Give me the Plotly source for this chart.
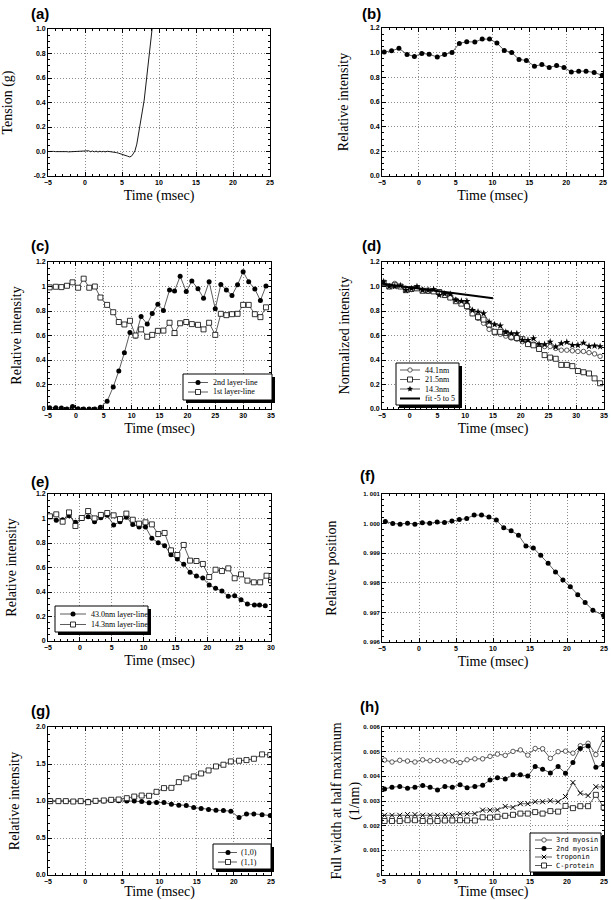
import math
import plotly.graph_objects as go

W, H = 611, 900

# ---------------- data ----------------
# (a) tension
a_t = [-5, -4.75, -4.5, -4.25, -4, -3.75, -3.5, -3.25, -3, -2.75, -2.5, -2.25, -2, -1.75, -1.5, -1.25,
       -1, -0.75, -0.5, -0.25, 0, 0.25, 0.5, 0.75, 1.0, 1.25, 1.5, 1.75, 2.0, 2.25, 2.5, 2.75, 3.0,
       3.25, 3.5, 3.75, 4.0, 4.25, 4.5, 4.75, 5.0, 5.25, 5.5, 5.75, 6.0, 6.25, 6.5, 6.75, 7.0, 7.25,
       7.5, 7.75, 8.0, 8.25, 8.5, 8.75, 9.0, 9.25]
a_tension = [0.0, 0.002, 0.0, 0.001, -0.001, 0.0, -0.002, 0.0, -0.001, -0.002, -0.001, -0.003, -0.002,
             -0.001, -0.002, 0.0, 0.001, 0.002, 0.003, 0.004, 0.005, 0.002, 0.006, -0.002, 0.004, -0.003,
             0.003, -0.004, 0.002, -0.002, 0.001, -0.003, 0.002, 0.0, -0.001, -0.004, -0.006, -0.009,
             -0.013, -0.017, -0.022, -0.027, -0.032, -0.038, -0.044, -0.040, -0.020, 0.005, 0.06, 0.14,
             0.24, 0.33, 0.42, 0.57, 0.70, 0.82, 0.96, 1.10]

# (b) relative intensity
b_t = [-4.7, -3.7, -2.7, -1.6, -0.6, 0.4, 1.4, 2.5, 3.5, 4.5, 5.5, 6.5, 7.6, 8.6, 9.6, 10.6, 11.6, 12.6,
       13.6, 14.6, 15.7, 16.7, 17.7, 18.7, 19.7, 20.7, 21.7, 22.7, 23.8, 24.9]
b_int = [1.005, 1.015, 1.035, 0.986, 0.969, 0.994, 0.988, 0.964, 0.986, 1.002, 1.075, 1.089, 1.086,
         1.110, 1.110, 1.078, 1.018, 1.002, 0.945, 0.937, 0.890, 0.904, 0.880, 0.896, 0.880, 0.844,
         0.850, 0.850, 0.839, 0.817]

# (c) layer lines
c_t = [-4.7, -3.6, -2.6, -1.6, -0.6, 0.4, 1.4, 2.4, 3.4, 4.4, 5.6, 6.7, 7.7, 8.7, 9.7, 10.7, 11.7, 12.8,
       13.7, 14.7, 15.7, 16.8, 17.7, 18.7, 19.8, 20.8, 21.9, 22.9, 23.9, 25.0, 26.0, 27.0, 28.0, 29.0,
       30.0, 31.0, 32.1, 33.1, 34.1]
c_2nd = [0.01, 0.01, 0.008, 0.0, 0.02, 0.003, 0.0, 0.0, 0.0, 0.015, 0.063, 0.18, 0.31, 0.46, 0.625,
         0.595, 0.755, 0.693, 0.78, 0.856, 0.805, 0.971, 0.963, 1.083, 0.96, 1.044, 0.982, 0.905, 1.039,
         0.818, 1.017, 0.971, 0.927, 1.014, 1.12, 1.039, 0.979, 0.886, 1.004]
c_1st = [0.993, 0.998, 0.995, 1.006, 1.034, 0.99, 1.064, 0.99, 1.0, 0.91, 0.85, 0.79, 0.71, 0.69, 0.72,
         0.60, 0.65, 0.59, 0.605, 0.638, 0.64, 0.704, 0.62, 0.70, 0.71, 0.693, 0.687, 0.65, 0.704, 0.605,
         0.777, 0.766, 0.774, 0.777, 0.85, 0.85, 0.774, 0.75, 0.83]

# (d) normalized intensity
d_t = [-4.7, -3.7, -2.7, -1.7, -0.7, 0.3, 1.3, 2.3, 3.3, 4.3, 5.3, 6.3, 7.3, 8.3, 9.3, 10.3, 11.3, 12.3,
       13.3, 14.3, 15.3, 16.3, 17.3, 18.3, 19.3, 20.3, 21.3, 22.3, 23.3, 24.3, 25.3, 26.3, 27.3, 28.3,
       29.3, 30.3, 31.3, 32.3, 33.3, 34.3]
d_441 = [1.02, 1.0, 1.025, 1.0, 0.985, 0.975, 0.99, 0.97, 0.96, 0.965, 0.94, 0.93, 0.91, 0.89, 0.87,
         0.83, 0.78, 0.74, 0.70, 0.65, 0.62, 0.61, 0.595, 0.58, 0.57, 0.55, 0.54, 0.53, 0.52, 0.51, 0.51,
         0.495, 0.48, 0.48, 0.475, 0.47, 0.47, 0.46, 0.45, 0.43]
d_215 = [1.03, 1.0, 1.01, 1.0, 0.97, 0.98, 0.985, 0.965, 0.965, 0.96, 0.955, 0.93, 0.91, 0.88, 0.86,
         0.84, 0.78, 0.75, 0.73, 0.69, 0.63, 0.63, 0.62, 0.59, 0.58, 0.57, 0.53, 0.52, 0.49, 0.44, 0.42,
         0.41, 0.36, 0.36, 0.35, 0.31, 0.30, 0.29, 0.25, 0.21]
d_143 = [1.04, 1.0, 1.0, 1.007, 0.97, 0.983, 1.0, 0.97, 0.97, 0.977, 0.93, 0.94, 0.937, 0.888, 0.88,
         0.88, 0.806, 0.793, 0.78, 0.711, 0.69, 0.68, 0.627, 0.616, 0.616, 0.562, 0.562, 0.576, 0.53,
         0.527, 0.548, 0.508, 0.535, 0.546, 0.521, 0.521, 0.54, 0.513, 0.516, 0.51]
d_fit_t = [-5, 15]
d_fit = [1.022, 0.905]

# (e) layer lines
e_t1 = [-4.7, -3.7, -2.7, -1.7, -0.7, 0.3, 1.3, 2.3, 3.3, 4.3, 5.3, 6.3, 7.3, 8.3, 9.3, 10.3, 11.3,
        12.3, 13.3, 14.3, 15.3, 16.3, 17.3, 18.3, 19.3, 20.3, 21.3, 22.3, 23.3, 24.3, 25.3, 26.3, 27.4,
        28.2, 29.1]
e_43 = [1.015, 0.985, 0.99, 1.023, 0.969, 0.999, 1.015, 0.974, 1.007, 1.026, 0.947, 0.974, 1.01, 0.952,
        0.931, 0.931, 0.838, 0.803, 0.778, 0.705, 0.669, 0.626, 0.561, 0.53, 0.514, 0.457, 0.43, 0.408,
        0.365, 0.37, 0.337, 0.302, 0.294, 0.294, 0.288]
e_t2 = [-4.7, -3.7, -2.7, -1.7, -0.7, 0.3, 1.3, 2.3, 3.3, 4.3, 5.3, 6.3, 7.3, 8.3, 9.3, 10.3, 11.3,
        12.3, 13.3, 14.3, 15.3, 16.3, 17.3, 18.3, 19.3, 20.3, 21.3, 22.3, 23.3, 24.3, 25.3, 26.3, 27.3,
        28.3, 29.3, 30.0]
e_143 = [1.018, 1.034, 0.974, 1.05, 0.939, 1.004, 1.061, 1.001, 1.029, 1.045, 1.026, 0.996, 1.04, 0.99,
         0.958, 0.969, 0.952, 0.873, 0.882, 0.74, 0.702, 0.784, 0.656, 0.653, 0.629, 0.522, 0.582, 0.571,
         0.593, 0.512, 0.544, 0.493, 0.479, 0.479, 0.533, 0.495]

# (f) relative position
f_t = [-4.55, -3.55, -2.55, -1.55, -0.55, 0.45, 1.45, 2.45, 3.45, 4.45, 5.45, 6.45, 7.45, 8.45, 9.45,
       10.45, 11.45, 12.45, 13.45, 14.45, 15.45, 16.45, 17.45, 18.45, 19.45, 20.45, 21.45, 22.45, 23.5,
       24.95]
f_pos = [1.000072, 1.000005, 0.999982, 1.000016, 0.999982, 1.000027, 1.000016, 1.00005, 1.000038,
         1.000084, 1.00014, 1.000174, 1.000287, 1.000287, 1.00022, 1.000118, 0.999857, 0.999756,
         0.999609, 0.999247, 0.999179, 0.99893, 0.998658, 0.998364, 0.998093, 0.997867, 0.997595,
         0.997335, 0.997075, 0.996894]

# (g) equatorial reflections
g_t = [-4.7, -3.6, -2.6, -1.6, -0.6, 0.4, 1.4, 2.5, 3.5, 4.5, 5.6, 6.6, 7.6, 8.6, 9.6, 10.6, 11.6, 12.6,
       13.6, 14.6, 15.6, 16.6, 17.6, 18.6, 19.6, 20.7, 21.7, 22.7, 23.8, 24.9]
g_10 = [1.002, 1.0, 0.998, 0.993, 0.998, 0.998, 0.998, 1.0, 1.007, 1.002, 1.0, 1.0, 0.993, 0.975, 0.98,
        0.98, 0.957, 0.944, 0.94, 0.912, 0.898, 0.885, 0.876, 0.871, 0.862, 0.777, 0.826, 0.826, 0.813,
        0.804]
g_11 = [0.998, 0.998, 0.998, 0.993, 0.998, 0.984, 1.002, 1.007, 1.016, 1.02, 1.038, 1.06, 1.074, 1.07,
        1.124, 1.174, 1.178, 1.255, 1.305, 1.332, 1.372, 1.413, 1.467, 1.49, 1.535, 1.544, 1.553, 1.571,
        1.63, 1.621]

# (h) full width at half maximum
h_t = [-4.65, -3.65, -2.6, -1.55, -0.55, 0.5, 1.5, 2.5, 3.5, 4.5, 5.55, 6.5, 7.55, 8.6, 9.6, 10.6, 11.65,
       12.7, 13.7, 14.7, 15.7, 16.7, 17.75, 18.8, 19.8, 20.8, 21.8, 22.85, 23.9, 24.95]
h_3rd = [0.00466, 0.00458, 0.00465, 0.00462, 0.00458, 0.00467, 0.00463, 0.00465, 0.00462, 0.00463,
         0.00456, 0.00467, 0.00471, 0.00471, 0.00481, 0.0049, 0.00485, 0.00501, 0.00507, 0.00486,
         0.00513, 0.00512, 0.00473, 0.005, 0.00502, 0.00494, 0.00524, 0.00534, 0.00488, 0.00554]
h_2nd = [0.00349, 0.00356, 0.00359, 0.00352, 0.00356, 0.00363, 0.00356, 0.00345, 0.00359, 0.00356,
         0.00366, 0.00354, 0.00359, 0.00364, 0.00385, 0.00394, 0.00389, 0.00406, 0.00406, 0.00401,
         0.0044, 0.00429, 0.00414, 0.0044, 0.00413, 0.00456, 0.00513, 0.00523, 0.00437, 0.00448]
h_trop = [0.00242, 0.00242, 0.00242, 0.00245, 0.00245, 0.00242, 0.00242, 0.00242, 0.00243, 0.00242,
          0.00248, 0.00248, 0.00249, 0.00263, 0.00263, 0.00264, 0.00278, 0.00274, 0.00289, 0.00289,
          0.00297, 0.00297, 0.00301, 0.00297, 0.00318, 0.00375, 0.00332, 0.00322, 0.00358, 0.00356]
h_cprot = [0.00219, 0.00219, 0.00219, 0.00222, 0.00222, 0.00219, 0.00218, 0.00219, 0.00221, 0.00221,
           0.00222, 0.00221, 0.00221, 0.00234, 0.00233, 0.00236, 0.0024, 0.00244, 0.00249, 0.00249,
           0.00255, 0.00249, 0.00259, 0.00257, 0.0028, 0.00271, 0.00279, 0.00279, 0.00325, 0.00274]

# tick labels
a_yticks = [-0.2, 0.0, 0.2, 0.4, 0.6, 0.8, 1.0]
a_ytext = ["-0.2", "0.0", "0.2", "0.4", "0.6", "0.8", "1.0"]
b_yticks = [0, 0.2, 0.4, 0.6, 0.8, 1.0, 1.2]
b_ytext = ["0.0", "0.2", "0.4", "0.6", "0.8", "1.0", "1.2"]
c_ytext = ["0", "0.2", "0.4", "0.6", "0.8", "1", "1.2"]
f_yticks = [0.996, 0.997, 0.998, 0.999, 1.000, 1.001]
f_ytext = ["0. 996", "0. 997", "0. 998", "0. 999", "1. 000", "1. 001"]
g_yticks = [0, 0.5, 1.0, 1.5, 2.0]
g_ytext = ["0.0", "0.5", "1.0", "1.5", "2.0"]
h_yticks = [0, 0.001, 0.002, 0.003, 0.004, 0.005, 0.006]
h_ytext = ["0", "0. 001", "0. 002", "0. 003", "0. 004", "0. 005", "0. 006"]

# ---------------- layout helpers ----------------
SERIF = "Liberation Serif"

panels = {
    # id: (left, right, top, bottom) px, xrange, yrange, ytitle, ytitle standoff, tick font size
    1: (48, 270, 29, 176, [-5, 25], [-0.2, 1.0], "Tension (g)", 18, 7),
    2: (382, 603, 28, 176, [-5, 25], [0, 1.2], "Relative intensity", 18, 7),
    3: (48, 271, 262, 409, [-5, 35], [0, 1.2], "Relative intensity", 11, 7),
    4: (382, 604, 262, 409, [-5, 35], [0, 1.2], "Normalized intensity", 17, 7),
    5: (48, 271, 494, 641, [-5, 30], [0, 1.2], "Relative intensity", 16, 7),
    6: (382, 604, 494, 642, [-5, 25], [0.996, 1.001], "Relative position", 23, 6),
    7: (48, 271, 727, 875, [-5, 25], [0, 2.0], "Relative intensity", 13, 7),
    8: (382, 604, 727, 875, [-5, 25], [0, 0.006], "", 0, 6),
}
yticks = {
    1: (a_yticks, a_ytext, 0.05),
    2: (b_yticks, b_ytext, 0.05),
    3: (b_yticks, c_ytext, 0.05),
    4: (b_yticks, b_ytext, 0.05),
    5: (b_yticks, c_ytext, 0.05),
    6: (f_yticks, f_ytext, 0.0002),
    7: (g_yticks, g_ytext, 0.1),
    8: (h_yticks, h_ytext, 0.0002),
}

fig = go.Figure()
layout = dict(
    width=W, height=H, margin=dict(l=0, r=0, t=0, b=0),
    paper_bgcolor="white", plot_bgcolor="white", showlegend=False,
)

for k, (l, r, t, b, xr, yr, ytitle, ystand, tfs) in panels.items():
    sx = "" if k == 1 else str(k)
    tv, tt, ydm = yticks[k]
    tickfont = dict(family="Liberation Sans", size=tfs, color="black", weight="bold")
    common = dict(
        showline=True, linecolor="black", linewidth=0.8, mirror="allticks",
        ticks="inside", ticklen=4, tickwidth=0.8, tickcolor="black",
        showgrid=True, gridcolor="#8c8c8c", gridwidth=0.7, griddash="1px,2px",
        zeroline=False, automargin=False,
    )
    layout["xaxis" + sx] = dict(
        common, domain=[l / W, r / W], range=xr, anchor="y" + sx,
        tickmode="linear", tick0=0, dtick=5, tickfont=dict(tickfont, size=7),
        minor=dict(ticks="inside", ticklen=2, tickcolor="black", dtick=1, tick0=0, showgrid=False),
        title=dict(text="Time (msec)", font=dict(family=SERIF, size=14, color="black"), standoff=4),
    )
    layout["yaxis" + sx] = dict(
        common, domain=[1 - b / H, 1 - t / H], range=yr, anchor="x" + sx,
        tickmode="array", tickvals=tv, ticktext=tt, tickfont=tickfont,
        minor=dict(ticks="inside", ticklen=2, tickcolor="black", dtick=ydm, tick0=0, showgrid=False),
        title=dict(text=ytitle, font=dict(family=SERIF, size=14, color="black"), standoff=ystand),
    )

LINE = dict(color="#333333", width=0.8)
FILLED = dict(symbol="circle", size=5, color="black")
SQUARE = dict(symbol="square", size=5, color="white", line=dict(color="black", width=0.8))
OCIRC = dict(symbol="circle", size=4.5, color="white", line=dict(color="#333333", width=0.8))
STAR = dict(symbol="star", size=5.5, color="black")
XMARK = dict(symbol="x-thin", size=5, line=dict(color="black", width=1))


def add(x, y, ax, marker=None, name=None, mode="lines+markers", line=LINE):
    sx = "" if ax == 1 else str(ax)
    kw = dict(x=x, y=y, xaxis="x" + sx, yaxis="y" + sx, mode=mode, line=line, name=name)
    if marker is not None:
        kw["marker"] = marker
    fig.add_trace(go.Scatter(**kw))


add(a_t, a_tension, 1, mode="lines", line=dict(color="black", width=0.9), name="tension")
add(b_t, b_int, 2, FILLED, "intensity")
add(c_t, c_2nd, 3, FILLED, "2nd layer-line")
add(c_t, c_1st, 3, SQUARE, "1st layer-line")
add(d_t, d_441, 4, OCIRC, "44.1nm")
add(d_t, d_215, 4, SQUARE, "21.5nm")
add(d_t, d_143, 4, STAR, "14.3nm")
add(d_fit_t, d_fit, 4, None, "fit -5 to 5", mode="lines", line=dict(color="black", width=2))
add(e_t1, e_43, 5, FILLED, "43.0nm layer-line")
add(e_t2, e_143, 5, SQUARE, "14.3nm layer-line")
add(f_t, f_pos, 6, FILLED, "position")
add(g_t, g_10, 7, FILLED, "(1,0)")
add(g_t, g_11, 7, SQUARE, "(1,1)")
add(h_t, h_3rd, 8, OCIRC, "3rd myosin")
add(h_t, h_2nd, 8, FILLED, "2nd myosin")
add(h_t, h_trop, 8, XMARK, "troponin")
add(h_t, h_cprot, 8, SQUARE, "C-protein")

# ---------------- hand-drawn legend boxes (px coordinates) ----------------
shapes = []
annotations = []


def px(x):
    return x / W


def py(y):
    return 1 - y / H


def rect(l, t, r, b, fill, lc=None, lw=0.8):
    shapes.append(dict(type="rect", xref="paper", yref="paper", x0=px(l), x1=px(r), y0=py(b), y1=py(t),
                       fillcolor=fill, line=dict(color=lc or fill, width=lw if lc else 0)))


def seg(x0, y0, x1, y1, w=0.8, c="#333333"):
    shapes.append(dict(type="line", xref="paper", yref="paper", x0=px(x0), x1=px(x1), y0=py(y0), y1=py(y1),
                       line=dict(color=c, width=w)))


def symbol(kind, cx, cy):
    if kind == "filled":
        shapes.append(dict(type="circle", xref="paper", yref="paper", x0=px(cx - 2.5), x1=px(cx + 2.5),
                           y0=py(cy + 2.5), y1=py(cy - 2.5), fillcolor="black", line=dict(width=0)))
    elif kind == "ocirc":
        shapes.append(dict(type="circle", xref="paper", yref="paper", x0=px(cx - 2.2), x1=px(cx + 2.2),
                           y0=py(cy + 2.2), y1=py(cy - 2.2), fillcolor="white",
                           line=dict(color="#333333", width=0.8)))
    elif kind == "square":
        rect(cx - 2.5, cy - 2.5, cx + 2.5, cy + 2.5, "white", "black", 0.8)
    elif kind == "star":
        pts = []
        for i in range(10):
            rr = 3.2 if i % 2 == 0 else 1.4
            ang = -math.pi / 2 + i * math.pi / 5
            pts.append((px(cx + rr * math.cos(ang)), py(cy + rr * math.sin(ang))))
        path = "M " + " L ".join(f"{x:.5f},{y:.5f}" for x, y in pts) + " Z"
        shapes.append(dict(type="path", xref="paper", yref="paper", path=path, fillcolor="black",
                           line=dict(width=0)))
    elif kind == "x":
        seg(cx - 2.2, cy - 2.2, cx + 2.2, cy + 2.2, 1, "black")
        seg(cx - 2.2, cy + 2.2, cx + 2.2, cy - 2.2, 1, "black")


legends = [
    # box (l, t, r, b), row ys, line x0, x1, marker cx, text x, font, size, entries
    ((183, 374, 272, 400), [382.5, 392], 188, 208, 198, 211, SERIF, 8,
     [("2nd layer-line", "filled"), ("1st layer-line", "square")]),
    ((396, 363, 459, 405), [370, 379.5, 389, 398.5], 400, 420, 410, 423, SERIF, 8,
     [("44.1nm", "ocirc"), ("21.5nm", "square"), ("14.3nm", "star"), ("fit -5 to 5", "thick")]),
    ((55, 606, 148, 632), [614, 624.5], 60, 86, 73, 89, SERIF, 8,
     [("43.0nm layer-line", "filled"), ("14.3nm layer-line", "square")]),
    ((213, 844, 271, 869), [852.5, 862], 218, 237, 228, 239, SERIF, 8,
     [("(1,0)", "filled"), ("(1,1)", "square")]),
    ((530, 833, 601, 872), [840, 848.5, 857, 865.5], 535, 552, 544, 554, "DejaVu Sans Mono", 7,
     [("3rd myosin", "ocirc"), ("2nd myosin", "filled"), ("troponin", "x"), ("C-protein", "square")]),
]
for (l, t, r, b), rows, lx0, lx1, mx, tx, fam, fs, entries in legends:
    rect(l + 3, t + 3, r + 3, b + 3, "black")
    rect(l, t, r, b, "white", "black", 1)
    for yy, (label, kind) in zip(rows, entries):
        if kind == "thick":
            seg(lx0, yy, lx1, yy, 2, "black")
        else:
            seg(lx0, yy, lx1, yy)
            symbol(kind, mx, yy)
        annotations.append(dict(text=label, x=px(tx), y=py(yy), xref="paper", yref="paper",
                                xanchor="left", yanchor="middle", showarrow=False,
                                font=dict(family=fam, size=fs, color="black")))

# y title for panel (h) (two lines)
annotations.append(dict(text="Full width at half maximum<br>(1/nm)", x=px(345.5), y=py(801), xref="paper",
                        yref="paper", xanchor="center", yanchor="middle", showarrow=False, textangle=-90,
                        font=dict(family=SERIF, size=14, color="black")))

labels = [("(a)", 29, 13), ("(b)", 360, 13), ("(c)", 29, 246), ("(d)", 360, 246),
          ("(e)", 29, 481), ("(f)", 358, 476), ("(g)", 29, 710), ("(h)", 358, 706)]
for s, x, y in labels:
    annotations.append(dict(text=s, x=px(x), y=py(y), xref="paper", yref="paper", xanchor="left",
                            yanchor="middle", showarrow=False,
                            font=dict(family="Liberation Sans", size=15, color="black", weight="bold")))

layout["shapes"] = shapes
layout["annotations"] = annotations

fig.update_layout(**layout)
fig.write_html(
    "out.html",
    config={"displayModeBar": False},
    post_script="document.body.style.margin='0px';document.body.style.padding='0px';"
                "document.documentElement.style.overflow='hidden';",
)
